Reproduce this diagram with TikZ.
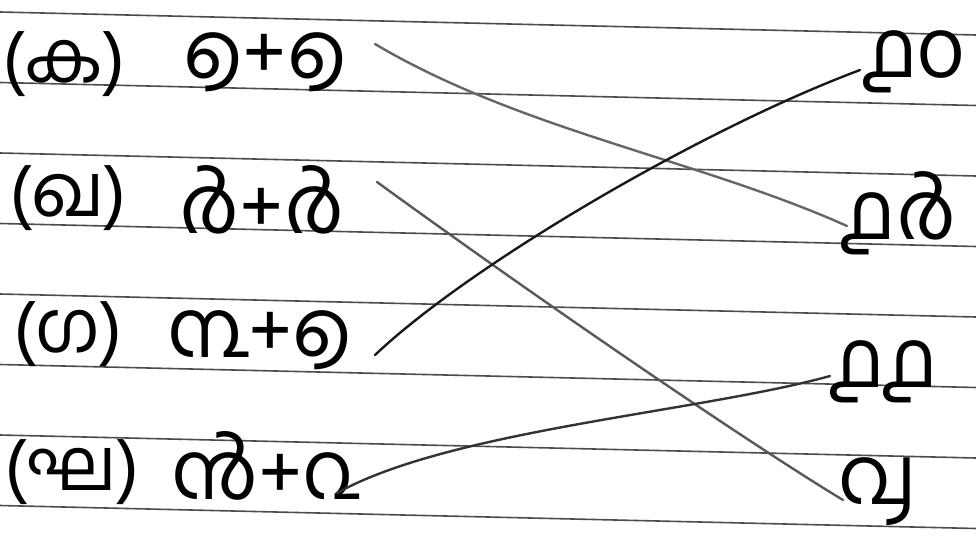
\documentclass[tikz,border=0pt]{standalone}
\usepackage{fontspec}
\newfontfamily\malayalam[Script=Malayalam]{Hind Kochi}
\usetikzlibrary{positioning}

\begin{document}
\begin{tikzpicture}[
  x=1pt, y=-1pt,
  rule/.style={draw=black!70, line width=1.6pt},
  tag/.style={font=\malayalam\fontsize{72}{72}\selectfont, inner sep=0pt},
  task/.style={font=\malayalam\fontsize{80}{80}\selectfont, inner sep=0pt},
  answer/.style={font=\malayalam\fontsize{80}{80}\selectfont, inner sep=0pt},
  link/.style={line width=2.4pt, line cap=round}
]
\useasboundingbox (0,0) rectangle (976,551);
% ruled paper
\foreach \k in {0,...,7}
  \draw[rule] (0,{12+70.5*\k}) -- (976,{35+70.5*\k});

\node[tag] (ka) at (64,64) {(ക)};
\node[tag] (kha) at (68,198) {(ഖ)};
\node[tag] (ga) at (68,334) {(ഗ)};
\node[tag] (gha) at (72,472) {(ഘ)};

\node[task] (q1) at (265,62) {൭+൭};
\node[task] (q2) at (262,200) {൪+൪};
\node[task] (q3) at (260,340) {൩+൭};
\node[task] (q4) at (265,466) {൯+൨};

\node[answer] (a1) at (915,62) {൧൦};
\node[answer] (a2) at (900,213) {൧൪};
\node[answer] (a3) at (885,372) {൧൧};
\node[answer] (a4) at (878,492) {൮};

% matching lines
\draw[link, black!60] ([shift={(110,-18)}]q1.center) .. controls (520,130) and (700,160) .. ([shift={(-53,13)}]a2.center);
\draw[link, black!65] ([shift={(115,-18)}]q2.center) .. controls (560,315) and (760,450) .. ([shift={(-35,8)}]a4.center);
\draw[link, black!90] ([shift={(115,15)}]q3.center) .. controls (470,265) and (700,130) .. ([shift={(-55,8)}]a1.center);
\draw[link, black!80] ([shift={(72,27)}]q4.center) .. controls (450,430) and (700,412) .. ([shift={(-55,4)}]a3.center);
\end{tikzpicture}
\end{document}
